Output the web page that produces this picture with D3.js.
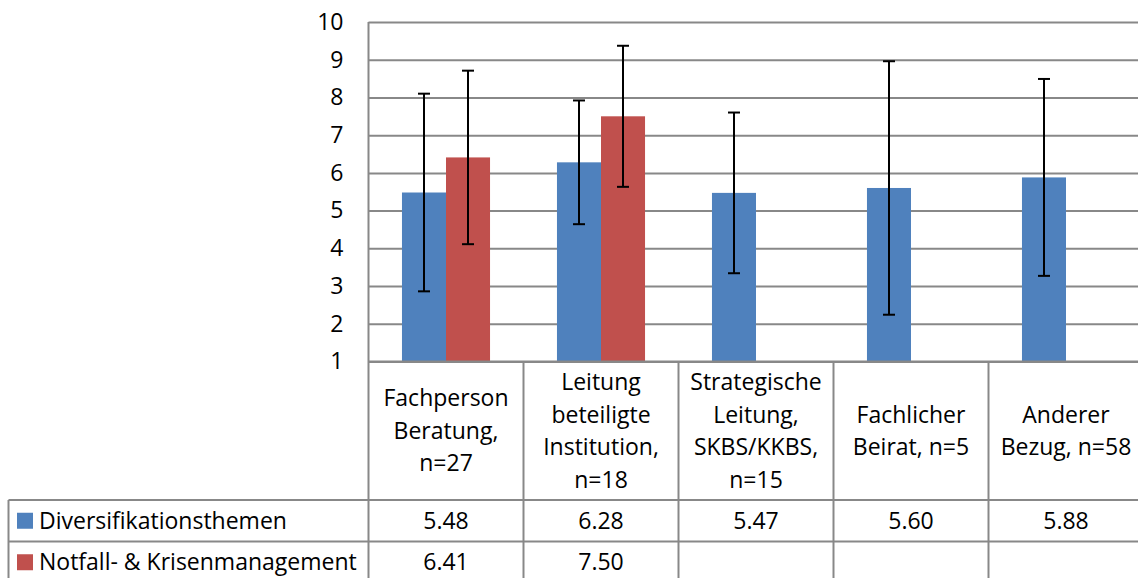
<!DOCTYPE html>
<html>
<head>
<meta charset="utf-8">
<script src="https://cdn.jsdelivr.net/npm/d3@7"></script>
<style>
	body { margin: 0; background: #fff; }
	text { font-family: "Open Sans", sans-serif; fill: #000; }
</style>
</head>
<body>
<svg id="chart" width="1138" height="578"></svg>
<script>
var categories = [
	["Fachperson", "Beratung,", "n=27"],
	["Leitung", "beteiligte", "Institution,", "n=18"],
	["Strategische", "Leitung,", "SKBS/KKBS,", "n=15"],
	["Fachlicher", "Beirat, n=5"],
	["Anderer", "Bezug, n=58"]
];
var seriesNames = ["Diversifikationsthemen", "Notfall- & Krisenmanagement"];
var diversValues = [5.48, 6.28, 5.47, 5.60, 5.88];
var diversErrors = [2.62, 1.64, 2.13, 3.36, 2.61];
var notfallValues = [6.41, 7.50, null, null, null];
var notfallErrors = [2.30, 1.87, null, null, null];
var yTicks = [1, 2, 3, 4, 5, 6, 7, 8, 9, 10];

(function() {
	"use strict";

	var svg = d3.select("#chart"),
		colors = ["#4f81bd", "#c0504d"],
		gridColor = "#888888",
		fontSize = 23,
		plot = { left: 368.5, right: 1143.5, top: 22, bottom: 361.5 },
		table = { left: 8.5, rowTop: 500, rowH: 41.5 },
		values = [diversValues, notfallValues],
		errors = [diversErrors, notfallErrors],
		idx = d3.range(categories.length);

	var y = d3.scaleLinear().domain([1, 10]).range([plot.bottom, plot.top]);
	var x0 = d3.scaleBand().domain(idx).range([plot.left, plot.right]);
	var x1 = d3.scaleBand().domain([0, 1]).range([0, x0.bandwidth()]).paddingOuter(0.76);

	// gridlines + tick labels
	var yAxis = svg.append("g")
		.attr("transform", "translate(" + plot.left + ",0)")
		.call(d3.axisLeft(y).tickValues(yTicks).tickSize(-(plot.right - plot.left)).tickPadding(25).tickFormat(d3.format("d")));
	yAxis.select(".domain").remove();
	yAxis.selectAll(".tick line").attr("stroke", gridColor).attr("stroke-width", 2);
	yAxis.selectAll(".tick text")
		.style("font-family", "\"Open Sans\", sans-serif")
		.style("font-size", fontSize + "px")
		.attr("fill", "#000");

	// bars
	var groups = svg.append("g").selectAll("g")
		.data(idx)
		.enter().append("g")
		.attr("transform", function(i) { return "translate(" + x0(i) + ",0)"; });

	[0, 1].forEach(function(s) {
		groups.filter(function(i) { return values[s][i] != null; })
			.append("rect")
			.attr("x", x1(s))
			.attr("width", x1.bandwidth())
			.attr("y", function(i) { return y(values[s][i]); })
			.attr("height", function(i) { return y(1) - y(values[s][i]); })
			.attr("fill", colors[s]);
	});

	// error bars
	[0, 1].forEach(function(s) {
		var eb = groups.filter(function(i) { return values[s][i] != null; })
			.append("g")
			.attr("stroke", "#000")
			.attr("stroke-width", 2);
		var cx = x1(s) + x1.bandwidth() / 2;
		eb.append("line")
			.attr("x1", cx).attr("x2", cx)
			.attr("y1", function(i) { return y(values[s][i] + errors[s][i]); })
			.attr("y2", function(i) { return y(values[s][i] - errors[s][i]); });
		eb.append("line")
			.attr("x1", cx - 6).attr("x2", cx + 6)
			.attr("y1", function(i) { return y(values[s][i] + errors[s][i]); })
			.attr("y2", function(i) { return y(values[s][i] + errors[s][i]); });
		eb.append("line")
			.attr("x1", cx - 6).attr("x2", cx + 6)
			.attr("y1", function(i) { return y(values[s][i] - errors[s][i]); })
			.attr("y2", function(i) { return y(values[s][i] - errors[s][i]); });
	});

	// data table lines
	var lines = svg.append("g").attr("stroke", gridColor).attr("stroke-width", 2);
	lines.append("line")
		.attr("x1", plot.left).attr("x2", 1138)
		.attr("y1", plot.bottom).attr("y2", plot.bottom);
	lines.append("line")
		.attr("x1", plot.left).attr("x2", plot.left)
		.attr("y1", plot.top).attr("y2", 578);
	[0, 1, 2].forEach(function(r) {
		var ly = table.rowTop + r * table.rowH;
		lines.append("line")
			.attr("x1", table.left).attr("x2", 1138)
			.attr("y1", ly).attr("y2", ly);
	});
	lines.append("line")
		.attr("x1", table.left).attr("x2", table.left)
		.attr("y1", table.rowTop).attr("y2", 578);
	idx.slice(1).forEach(function(i) {
		lines.append("line")
			.attr("x1", x0(i)).attr("x2", x0(i))
			.attr("y1", plot.bottom).attr("y2", 578);
	});

	// category labels
	var catMid = (plot.bottom + table.rowTop) / 2,
		lineH = 32.5;
	svg.append("g").selectAll("text")
		.data(idx)
		.enter().append("text")
		.attr("text-anchor", "middle")
		.style("font-size", fontSize + "px")
		.each(function(i) {
			var lns = categories[i],
				start = catMid - (lns.length - 1) * lineH / 2;
			d3.select(this).selectAll("tspan")
				.data(lns)
				.enter().append("tspan")
				.attr("x", x0(i) + x0.bandwidth() / 2)
				.attr("y", function(d, k) { return start + k * lineH; })
				.attr("dy", "0.35em")
				.text(function(d) { return d; });
		});

	// table rows: legend key + values
	[0, 1].forEach(function(s) {
		var cy = table.rowTop + s * table.rowH + table.rowH / 2;
		svg.append("rect")
			.attr("x", 17).attr("y", cy - 8)
			.attr("width", 16).attr("height", 16)
			.attr("fill", colors[s]);
		svg.append("text")
			.attr("x", 39).attr("y", cy).attr("dy", "0.35em")
			.style("font-size", fontSize + "px")
			.text(seriesNames[s]);
		svg.append("g").selectAll("text")
			.data(idx.filter(function(i) { return values[s][i] != null; }))
			.enter().append("text")
			.attr("x", function(i) { return x0(i) + x0.bandwidth() / 2; })
			.attr("y", cy).attr("dy", "0.35em")
			.attr("text-anchor", "middle")
			.style("font-size", fontSize + "px")
			.text(function(i) { return values[s][i].toFixed(2); });
	});
})();
</script>
</body>
</html>
